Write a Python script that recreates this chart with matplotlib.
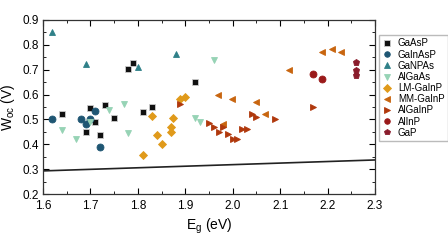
import numpy as np
import matplotlib
matplotlib.use("Agg")
import matplotlib.pyplot as plt
from matplotlib.ticker import MultipleLocator

plt.rcParams['font.family'] = ['Liberation Sans', 'DejaVu Sans']

# data (Eg in eV, Woc in V)
gaasp_eg = [1.64, 1.69, 1.70, 1.71, 1.72, 1.73, 1.75, 1.78, 1.79, 1.81, 1.83, 1.92]
gaasp_w = [0.52, 0.45, 0.545, 0.49, 0.437, 0.558, 0.507, 0.703, 0.726, 0.531, 0.551, 0.652]

gainasp_eg = [1.62, 1.68, 1.69, 1.70, 1.71, 1.72]
gainasp_w = [0.502, 0.50, 0.48, 0.50, 0.532, 0.39]

ganpas_eg = [1.62, 1.69, 1.80, 1.88]
ganpas_w = [0.853, 0.723, 0.712, 0.763]

algaas_eg = [1.64, 1.67, 1.70, 1.74, 1.77, 1.78, 1.92, 1.93, 1.96]
algaas_w = [0.458, 0.422, 0.488, 0.538, 0.562, 0.444, 0.507, 0.489, 0.739]

lm_eg = [1.81, 1.83, 1.84, 1.85, 1.87, 1.87, 1.875, 1.889, 1.90]
lm_w = [0.357, 0.514, 0.437, 0.401, 0.471, 0.451, 0.505, 0.581, 0.591]

mm_eg = [1.968, 1.98, 1.999, 2.049, 2.068, 2.119, 2.188, 2.209, 2.229]
mm_w = [0.60, 0.482, 0.581, 0.571, 0.522, 0.70, 0.773, 0.782, 0.773]

algainp_eg = [1.889, 1.95, 1.961, 1.971, 1.979, 1.99, 2.0, 2.01, 2.02, 2.03, 2.04, 2.05, 2.09, 2.17]
algainp_w = [0.562, 0.484, 0.471, 0.451, 0.468, 0.44, 0.42, 0.42, 0.46, 0.46, 0.522, 0.511, 0.50, 0.551]

alinp_eg = [2.169, 2.189]
alinp_w = [0.681, 0.661]

gap_eg = [2.26, 2.26, 2.26]
gap_w = [0.732, 0.70, 0.679]

# theoretical limit line
lim_eg = [1.6, 2.3]
lim_w = [0.293, 0.337]

series = [
    ("GaAsP", gaasp_eg, gaasp_w, "s", "#111111"),
    ("GaInAsP", gainasp_eg, gainasp_w, "o", "#1f5673"),
    ("GaNPAs", ganpas_eg, ganpas_w, "^", "#2f8088"),
    ("AlGaAs", algaas_eg, algaas_w, "v", "#96d3b5"),
    ("LM-GaInP", lm_eg, lm_w, "D", "#e09a1a"),
    ("MM-GaInP", mm_eg, mm_w, "<", "#c8650f"),
    ("AlGaInP", algainp_eg, algainp_w, ">", "#b0380c"),
    ("AlInP", alinp_eg, alinp_w, "o", "#9a1a1a"),
    ("GaP", gap_eg, gap_w, "p", "#8a1c2c"),
]

fig = plt.figure(figsize=(4.48, 2.52), dpi=100)
ax = fig.add_axes([0.096, 0.230, 0.741, 0.691])

for name, x, y, m, c in series:
    ms = 4.5 if m == "D" else 5
    ax.plot(x, y, linestyle="none", marker=m, color=c, markersize=ms,
            markeredgecolor="#cccccc" if name == "GaAsP" else c,
            markeredgewidth=0.6, label=name)

ax.plot(lim_eg, lim_w, color="#222222", linewidth=1.2)

ax.set_xlim(1.6, 2.3)
ax.set_ylim(0.2, 0.9)
ax.xaxis.set_major_locator(MultipleLocator(0.1))
ax.xaxis.set_minor_locator(MultipleLocator(0.05))
ax.yaxis.set_major_locator(MultipleLocator(0.1))
ax.yaxis.set_minor_locator(MultipleLocator(0.05))
ax.tick_params(which="both", direction="in", top=True, right=True, labelsize=8.5)
ax.tick_params(axis="x", pad=4)
ax.tick_params(axis="y", pad=3)
ax.tick_params(which="major", length=4, width=0.8)
ax.tick_params(which="minor", length=2, width=0.6)
for s in ax.spines.values():
    s.set_linewidth(0.9)
    s.set_color("#333333")

ax.set_xlabel(r"E$_\mathregular{g}$ (eV)", fontsize=10, labelpad=4)
ax.set_ylabel(r"W$_\mathregular{oc}$ (V)", fontsize=10, labelpad=4)

ax.legend(loc="upper left", bbox_to_anchor=(0.846, 0.861), bbox_transform=fig.transFigure,
          fontsize=7, frameon=True, fancybox=False, edgecolor="#aaaaaa",
          handlelength=0.9, handletextpad=0.7, labelspacing=0.12, borderpad=0.35,
          borderaxespad=0, markerscale=0.8)

fig.savefig("out.png", dpi=100)
